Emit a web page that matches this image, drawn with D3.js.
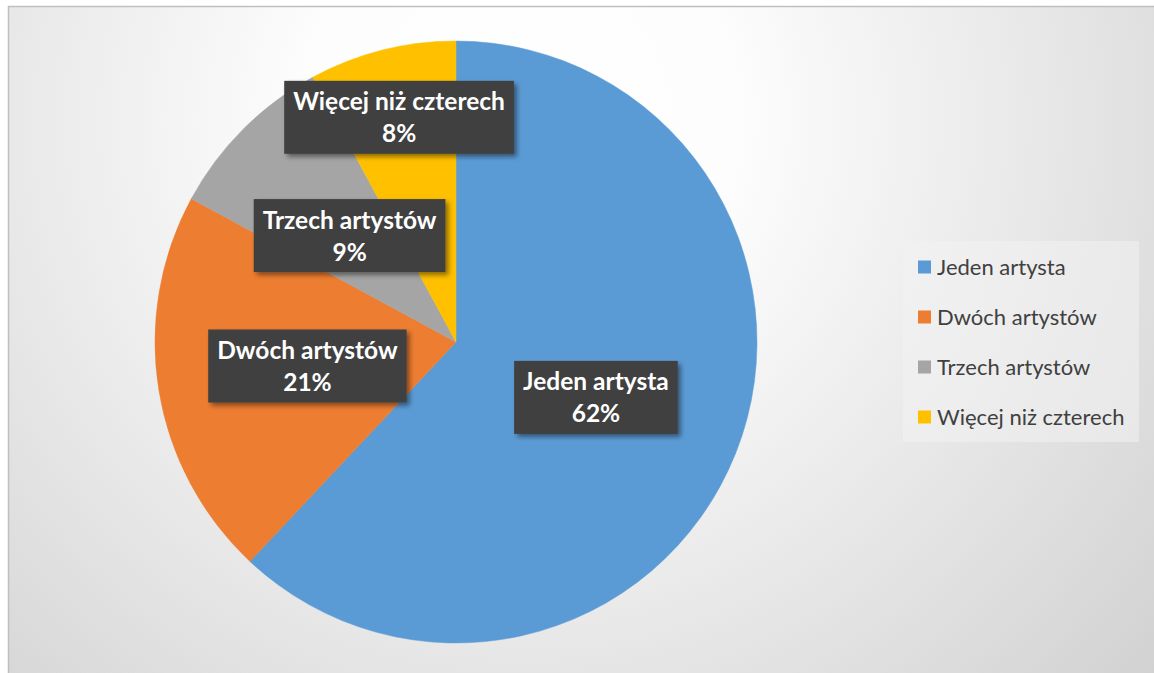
<!DOCTYPE html>
<html>
<head>
<meta charset="utf-8">
<script src="https://cdn.jsdelivr.net/npm/d3@7"></script>
<style>
  html, body { margin: 0; padding: 0; background: #ffffff; }
  svg { display: block; }
</style>
</head>
<body>
<svg id="chart" width="1154" height="673"></svg>
<script>
// ---- data ----
const categories = ["Jeden artysta", "Dwóch artystów", "Trzech artystów", "Więcej niż czterech"];
const values = [62.0, 20.9, 9.2, 7.9];
const percentLabels = ["62%", "21%", "9%", "8%"];
const colors = ["#5b9bd5", "#ed7d31", "#a5a5a5", "#ffc000"];

// ---- layout / style ----
const W = 1154, H = 673;
const cx = 456, cy = 342, R = 301;
const labelRadiusFactor = [0.5, 0.5, 0.5, 0.77];
const labelFont = "Lato, 'Open Sans', sans-serif";

const svg = d3.select("#chart");
const defs = svg.append("defs");

const grad = defs.append("radialGradient")
  .attr("id", "bg").attr("gradientUnits", "userSpaceOnUse")
  .attr("cx", 520).attr("cy", 120).attr("r", 850);
grad.append("stop").attr("offset", 0).attr("stop-color", "#ffffff");
grad.append("stop").attr("offset", 0.25).attr("stop-color", "#fdfdfd");
grad.append("stop").attr("offset", 1).attr("stop-color", "#d1d1d1");

const shadow = defs.append("filter").attr("id", "shadow")
  .attr("x", "-20%").attr("y", "-20%").attr("width", "140%").attr("height", "160%");
shadow.append("feDropShadow").attr("dx", 3).attr("dy", 3).attr("stdDeviation", 2.5)
  .attr("flood-color", "#000").attr("flood-opacity", 0.45);

// background + border
svg.append("rect").attr("x", 0).attr("y", 0).attr("width", W).attr("height", H).attr("fill", "#ffffff");
svg.append("rect").attr("x", 8.5).attr("y", 6.5).attr("width", W + 10).attr("height", H + 10)
  .attr("fill", "url(#bg)").attr("stroke", "#bfbfbf").attr("stroke-width", 1.5);

// pie
const pie = d3.pie().sort(null).value(d => d.value);
const data = categories.map((c, i) => ({ name: c, value: values[i], color: colors[i], pct: percentLabels[i], lr: labelRadiusFactor[i] }));
const arcs = pie(data);
const arc = d3.arc().innerRadius(0).outerRadius(R);

const g = svg.append("g").attr("transform", `translate(${cx},${cy})`);
g.selectAll("path.slice").data(arcs).enter().append("path")
  .attr("class", "slice")
  .attr("d", arc)
  .attr("fill", d => d.data.color)
  .attr("stroke", d => d.data.color)
  .attr("stroke-width", 0.5);

// labels
const labelG = g.selectAll("g.lbl").data(arcs).enter().append("g").attr("class", "lbl")
  .attr("transform", d => {
    const la = d3.arc().innerRadius(R * d.data.lr).outerRadius(R * d.data.lr);
    const [x, y] = la.centroid(d);
    return `translate(${x},${y})`;
  });

labelG.each(function(d) {
  const sel = d3.select(this);
  const rect = sel.append("rect").attr("fill", "#404040").attr("filter", "url(#shadow)");
  const t1 = sel.append("text").attr("text-anchor", "middle").attr("y", -7)
    .attr("font-family", labelFont).attr("font-weight", "bold").attr("font-size", 24.5)
    .attr("fill", "#ffffff").text(d.data.name);
  sel.append("text").attr("text-anchor", "middle").attr("y", 25)
    .attr("font-family", labelFont).attr("font-weight", "bold").attr("font-size", 24.5)
    .attr("fill", "#ffffff").text(d.data.pct);
  const w = t1.node().getComputedTextLength() + 18;
  const h = 73;
  rect.attr("x", -w / 2).attr("y", -h / 2).attr("width", w).attr("height", h);
});

// legend
const legend = svg.append("g");
legend.append("rect").attr("x", 903).attr("y", 241).attr("width", 236).attr("height", 201)
  .attr("fill", "#f2f2f2").attr("fill-opacity", 0.55);
const ly = d3.scalePoint().domain(categories).range([267, 417]);
const items = legend.selectAll("g.item").data(data).enter().append("g").attr("class", "item")
  .attr("transform", d => `translate(918,${ly(d.name)})`);
items.append("rect").attr("x", 0).attr("y", -6.5).attr("width", 13).attr("height", 13).attr("fill", d => d.color);
items.append("text").attr("x", 19).attr("y", 7.5)
  .attr("font-family", labelFont).attr("font-size", 22).attr("fill", "#404040")
  .text(d => d.name);
</script>
</body>
</html>
